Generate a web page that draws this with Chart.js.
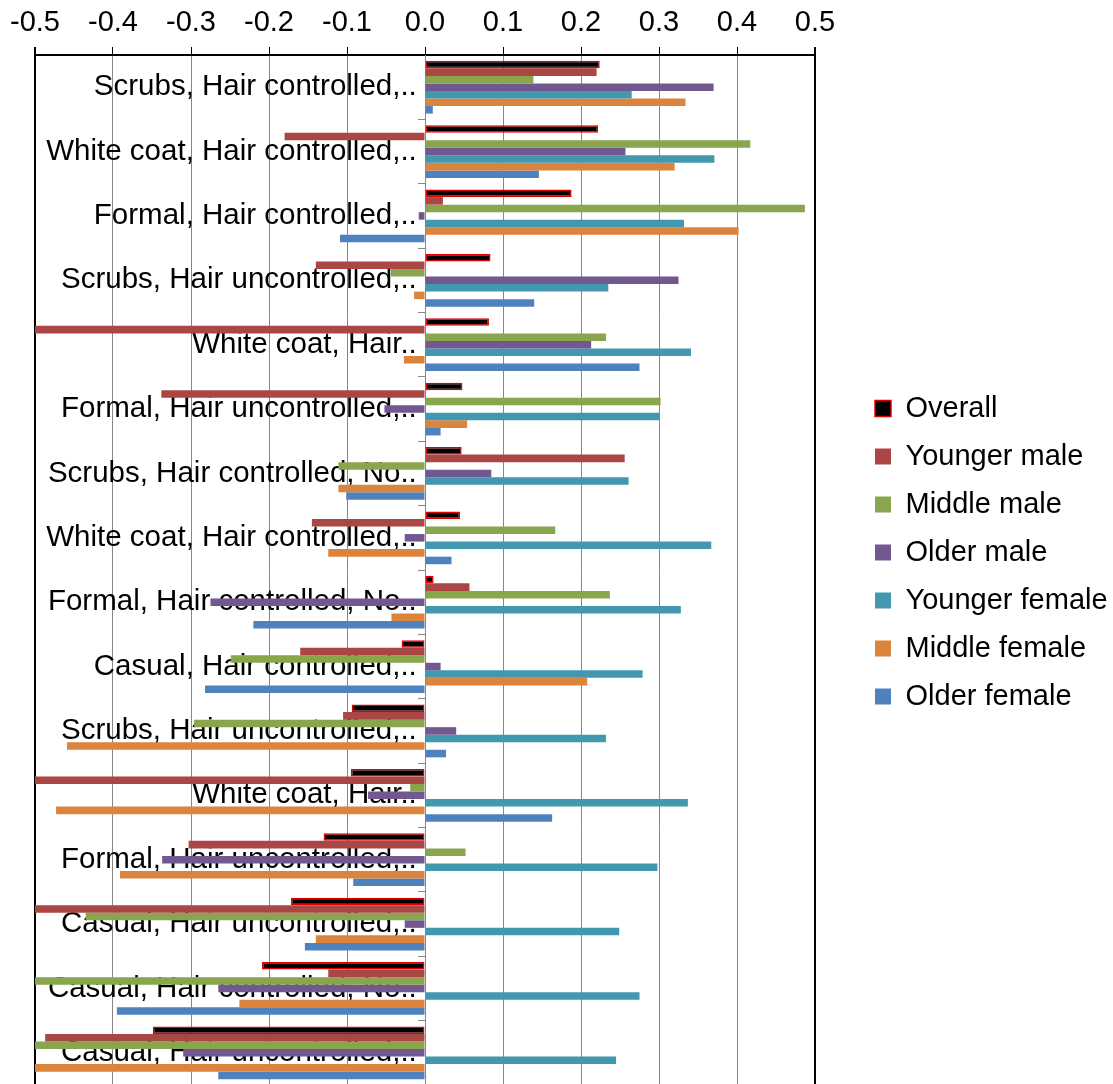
<!DOCTYPE html>
<html>
<head>
<meta charset="utf-8">
<script src="https://cdn.jsdelivr.net/npm/chart.js@4.4.1/dist/chart.umd.min.js"></script>
<style>
  html, body { margin: 0; padding: 0; background: #fff; overflow: hidden; }
  #wrap { position: relative; width: 1113px; height: 1085px; }
</style>
</head>
<body>
<div id="wrap"><canvas id="chart"></canvas></div>
<script>
// categories, top to bottom
const categories = [
  "Scrubs, Hair controlled,..",
  "White coat, Hair controlled,..",
  "Formal, Hair controlled,..",
  "Scrubs, Hair uncontrolled,..",
  "White coat, Hair..",
  "Formal, Hair uncontrolled,..",
  "Scrubs, Hair controlled, No..",
  "White coat, Hair controlled,..",
  "Formal, Hair controlled, No..",
  "Casual, Hair controlled,..",
  "Scrubs, Hair uncontrolled,..",
  "White coat, Hair..",
  "Formal, Hair uncontrolled,..",
  "Casual, Hair uncontrolled,..",
  "Casual, Hair controlled, No..",
  "Casual, Hair uncontrolled,.."
];

const seriesNames = ["Overall", "Younger male", "Middle male", "Older male",
  "Younger female", "Middle female", "Older female"];

const overall       = [0.224, 0.222, 0.188, 0.084, 0.082, 0.048, 0.047, 0.045, 0.011, -0.030, -0.094, -0.095, -0.130, -0.172, -0.209, -0.349];
const youngerMale   = [0.220, -0.180, 0.023, -0.140, -0.500, -0.338, 0.256, -0.145, 0.057, -0.160, -0.105, -0.500, -0.303, -0.500, -0.124, -0.487];
const middleMale    = [0.139, 0.417, 0.487, -0.044, 0.232, 0.302, -0.111, 0.167, 0.237, -0.249, -0.296, -0.019, 0.052, -0.435, -0.500, -0.500];
const olderMale     = [0.370, 0.257, -0.008, 0.325, 0.213, -0.052, 0.085, -0.026, -0.275, 0.020, 0.040, -0.073, -0.337, -0.026, -0.265, -0.310];
const youngerFemale = [0.265, 0.371, 0.332, 0.235, 0.341, 0.301, 0.261, 0.367, 0.328, 0.279, 0.232, 0.337, 0.298, 0.249, 0.275, 0.245];
const middleFemale  = [0.334, 0.320, 0.402, -0.014, -0.027, 0.054, -0.111, -0.124, -0.043, 0.208, -0.459, -0.473, -0.391, -0.140, -0.238, -0.500];
const olderFemale   = [0.010, 0.146, -0.109, 0.140, 0.275, 0.020, -0.101, 0.034, -0.220, -0.282, 0.027, 0.163, -0.092, -0.154, -0.395, -0.265];

const seriesValues = [overall, youngerMale, middleMale, olderMale, youngerFemale, middleFemale, olderFemale];
const seriesColors = ["#000000", "#AA4643", "#89A54E", "#71588F", "#4198AF", "#DB843D", "#4F81BD"];

const axisMin = -0.5;
const axisMax = 0.5;
const axisStep = 0.1;

Chart.defaults.font.family = "'Liberation Sans', Arial, sans-serif";
Chart.defaults.font.size = 29;
Chart.defaults.color = "#000";

const datasets = seriesNames.map((name, i) => ({
  label: name,
  data: seriesValues[i],
  backgroundColor: seriesColors[i],
  borderColor: i === 0 ? "#E00000" : seriesColors[i],
  borderWidth: i === 0 ? 1.5 : 0,
  borderSkipped: false,
  categoryPercentage: 0.82,
  barPercentage: 1.0
}));

// legend sits a bit away from the plot, like the excel original
const legendPlace = {
  id: "legendPlace",
  beforeInit(chart) {
    const fit = chart.legend.fit;
    chart.legend.fit = function () {
      fit.call(this);
      this.width = 298;
    };
  },
  afterLayout(chart) {
    chart.legend.left = 856;
    chart.legend.top = 375;
  }
};

new Chart(document.getElementById("chart"), {
  type: "bar",
  data: { labels: categories, datasets: datasets },
  plugins: [legendPlace],
  options: {
    indexAxis: "y",
    responsive: true,
    maintainAspectRatio: false,
    animation: false,
    layout: { padding: { left: 35, top: 0, right: 0, bottom: 0 } },
    plugins: {
      tooltip: { enabled: false },
      legend: {
        position: "right",
        align: "start",
        labels: { boxWidth: 16, boxHeight: 16, padding: 19, color: "#000" }
      }
    },
    scales: {
      x: {
        position: "top",
        min: axisMin,
        max: axisMax,
        afterFit: s => { s.height = 55; },
        ticks: {
          stepSize: axisStep,
          padding: 7,
          color: "#000",
          callback: v => (Math.abs(v) < 1e-9 ? 0 : v).toFixed(1)
        },
        grid: {
          color: ctx => (ctx.index === 0 || ctx.index === 10) ? "#000" : "#868686",
          lineWidth: ctx => (ctx.index === 0 || ctx.index === 10) ? 2 : 1,
          tickColor: "#000",
          tickLength: 8
        },
        border: { display: true, color: "#000", width: 2 }
      },
      y: {
        position: { x: 0 },
        offset: true,
        z: 1,
        afterFit: s => { s.paddingTop = 0; s.paddingBottom = 0; },
        ticks: {
          autoSkip: false,
          color: "#000",
          font: { size: 29.5 },
          // trailing space keeps the text clear of the tick marks
          callback: (v, i) => categories[i] + " "
        },
        grid: {
          offset: true,
          drawOnChartArea: false,
          drawTicks: true,
          tickLength: 7,
          color: "#868686"
        },
        border: { display: true, color: "#868686", width: 1 }
      }
    }
  }
});
</script>
</body>
</html>
